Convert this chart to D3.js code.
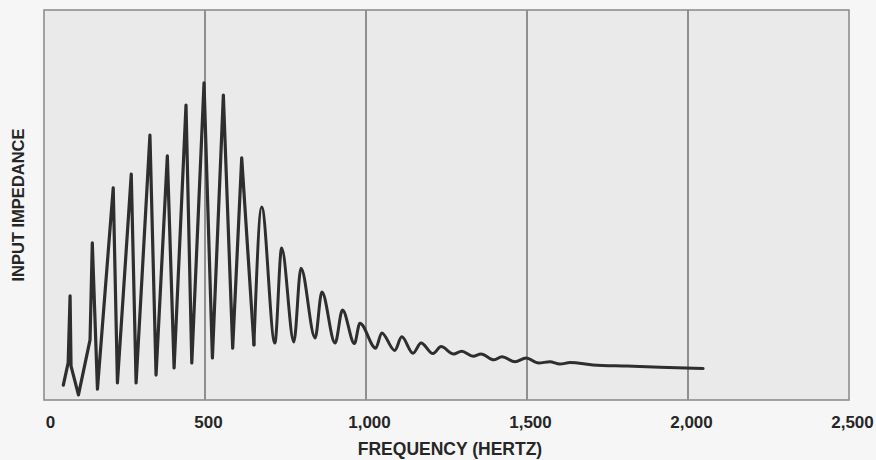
<!DOCTYPE html>
<html>
<head>
<meta charset="utf-8">
<script src="https://cdn.jsdelivr.net/npm/d3@7"></script>
<style>
  html, body { margin: 0; padding: 0; background: #f6f6f6; }
  svg { display: block; }
  text { font-family: "Liberation Sans", Arial, Helvetica, sans-serif; font-weight: bold; fill: #262626; }
</style>
</head>
<body>
<svg id="chart" width="876" height="460"></svg>
<script>
// Frequency (Hz)
const frequency = [60, 75, 81, 84, 107, 143, 150, 166, 215, 228, 271, 286, 329, 348, 383, 404,
  441, 459, 497, 523, 557, 586, 614, 652, 676, 717, 738, 776, 798, 842, 863, 904,
  927, 964, 981, 1030, 1049, 1089, 1111, 1146, 1171, 1208, 1233, 1272, 1297, 1333, 1357, 1398,
  1422, 1463, 1497, 1536, 1571, 1602, 1634, 1705, 1811, 1913, 2047];
// Input impedance (relative units, axis unlabelled)
const impedance = [3.8, 9.5, 26.7, 8.7, 1.3, 15.4, 40.3, 2.8, 54.4, 4.4, 57.9, 4.4, 67.9, 6.4, 62.6, 8.2,
  75.6, 9.5, 81.3, 10.8, 78.2, 13.3, 62.1, 14.1, 49.5, 14.6, 39.0, 14.9, 33.8, 15.9, 27.7, 14.6,
  23.1, 14.5, 19.7, 13.3, 17.2, 12.7, 16.2, 12.0, 14.6, 11.9, 13.7, 11.8, 12.5, 11.2, 11.8, 10.3,
  11.1, 9.8, 10.8, 9.5, 9.8, 9.2, 9.6, 9.0, 8.7, 8.4, 8.1];
const xTicks = [0, 500, 1000, 1500, 2000, 2500];
const xTickLabels = ["0", "500", "1,000", "1,500", "2,000", "2,500"];
const xTitle = "FREQUENCY (HERTZ)";
const yTitle = "INPUT IMPEDANCE";

const data = frequency.map((f, i) => ({ f, v: impedance[i] }));

const svg = d3.select("#chart");
const mLeft = 44, mRight = 849, mTop = 10, mBottom = 400;

const x = d3.scaleLinear().domain([0, 2500]).range([mLeft, mRight]);
const y = d3.scaleLinear().domain([0, 100]).range([mBottom, mTop]);

// plot background
svg.append("rect")
  .attr("x", mLeft).attr("y", mTop)
  .attr("width", mRight - mLeft).attr("height", mBottom - mTop)
  .attr("fill", "#eaeaea");

// vertical gridlines
svg.append("g")
  .selectAll("line")
  .data(xTicks.filter(d => d > 0 && d < 2500))
  .join("line")
  .attr("x1", d => x(d)).attr("x2", d => x(d))
  .attr("y1", mTop).attr("y2", mBottom)
  .attr("stroke", "#787878")
  .attr("stroke-width", 1.6);

// frame
svg.append("rect")
  .attr("x", mLeft).attr("y", mTop)
  .attr("width", mRight - mLeft).attr("height", mBottom - mTop)
  .attr("fill", "none")
  .attr("stroke", "#8e8e8e")
  .attr("stroke-width", 1.6);

// x axis labels
const xAxis = d3.axisBottom(x)
  .tickValues(xTicks)
  .tickFormat((d, i) => xTickLabels[i])
  .tickSize(0)
  .tickPadding(16);
const gx = svg.append("g")
  .attr("transform", `translate(0,${mBottom})`)
  .call(xAxis);
gx.select(".domain").remove();
gx.attr("font-family", null).attr("font-size", null);
gx.selectAll("text")
  .attr("font-size", 17)
  .attr("dx", (d, i) => i === 0 ? 6 : 3);

// axis titles
svg.append("text")
  .attr("x", 450).attr("y", 455)
  .attr("text-anchor", "middle")
  .attr("font-size", 17.5)
  .text(xTitle);

svg.append("text")
  .attr("transform", `translate(24,205) rotate(-90)`)
  .attr("text-anchor", "middle")
  .attr("font-size", 16.5)
  .text(yTitle);

// the curve: sharp resonance spikes at low frequency, smooth ripple above
const split = 652;
const sharp = d3.line().x(d => x(d.f)).y(d => y(d.v)).curve(d3.curveLinear);
const smooth = d3.line().x(d => x(d.f)).y(d => y(d.v)).curve(d3.curveMonotoneX);

const curveStyle = sel => sel
  .attr("fill", "none")
  .attr("stroke", "#2e2e2e")
  .attr("stroke-width", 3.2)
  .attr("stroke-linejoin", "round")
  .attr("stroke-linecap", "round");

svg.append("path")
  .datum(data.filter(d => d.f <= split))
  .attr("d", sharp)
  .call(curveStyle);

svg.append("path")
  .datum(data.filter(d => d.f >= split))
  .attr("d", smooth)
  .call(curveStyle)
  .attr("stroke-width", 3);
</script>
</body>
</html>
